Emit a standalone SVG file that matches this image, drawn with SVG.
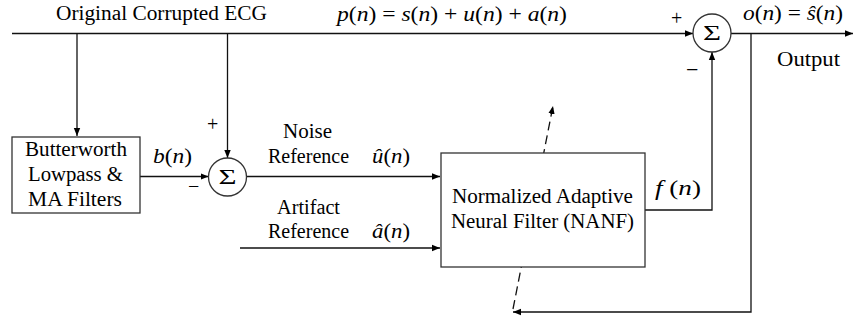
<svg xmlns="http://www.w3.org/2000/svg" width="854" height="320" viewBox="0 0 854 320">
<style>
.t{font-family:"Liberation Serif","Times New Roman",serif;font-size:20px;fill:#000}
.m{font-family:"Liberation Serif","Times New Roman",serif;font-size:20px;font-style:italic;fill:#000}
.u{font-style:normal}
.ln{stroke:#111;stroke-width:1.3;fill:none}
.bx{stroke:#333;stroke-width:1.3;fill:#fff}
</style>
<defs>
<marker id="ah" viewBox="0 0 10 10" refX="10" refY="5" markerWidth="8" markerHeight="8" markerUnits="userSpaceOnUse" orient="auto">
<path d="M0,1 L10,5 L0,9 z" fill="#000"/>
</marker>
</defs>
<g id="connectors">
<line class="ln" x1="12" y1="33.5" x2="693" y2="33.5" marker-end="url(#ah)"/>
<line class="ln" x1="77" y1="33.5" x2="77" y2="136" marker-end="url(#ah)"/>
<line class="ln" x1="227.5" y1="33.5" x2="227.5" y2="158" marker-end="url(#ah)"/>
<line class="ln" x1="140" y1="176.5" x2="208.5" y2="176.5" marker-end="url(#ah)"/>
<line class="ln" x1="247" y1="176.5" x2="440" y2="176.5" marker-end="url(#ah)"/>
<line class="ln" x1="240" y1="248" x2="440" y2="248" marker-end="url(#ah)"/>
<polyline class="ln" points="645,210 712,210 712,52" marker-end="url(#ah)"/>
<line class="ln" x1="731" y1="33.5" x2="853" y2="33.5" marker-end="url(#ah)"/>
<polyline class="ln" points="751,33.5 751,312 513,312" marker-end="url(#ah)"/>
<line class="ln" x1="513" y1="309" x2="553" y2="106" stroke-dasharray="9,5" marker-end="url(#ah)"/>
</g>
<g id="filter">
<rect class="bx" x="12" y="137" width="128" height="76"/>
<text class="t" text-anchor="middle" x="76" y="156" textLength="102" lengthAdjust="spacingAndGlyphs">Butterworth</text>
<text class="t" text-anchor="middle" x="75.5" y="181" textLength="95" lengthAdjust="spacingAndGlyphs">Lowpass &amp;</text>
<text class="t" text-anchor="middle" x="75" y="206" textLength="94" lengthAdjust="spacingAndGlyphs">MA Filters</text>
</g>
<g id="sum1">
<circle class="bx" cx="227.5" cy="177" r="19"/>
<text class="t" text-anchor="middle" x="227.5" y="184" style="font-size:22px" textLength="18" lengthAdjust="spacingAndGlyphs">Σ</text>
</g>
<g id="nanf">
<rect class="bx" x="441" y="153" width="204" height="114"/>
<text class="t" text-anchor="middle" x="542.5" y="203" textLength="181" lengthAdjust="spacingAndGlyphs">Normalized Adaptive</text>
<text class="t" text-anchor="middle" x="542.5" y="228" textLength="183" lengthAdjust="spacingAndGlyphs">Neural Filter (NANF)</text>
</g>
<g id="sum2">
<circle class="bx" cx="712" cy="33" r="19"/>
<text class="t" text-anchor="middle" x="712" y="40" style="font-size:22px" textLength="18" lengthAdjust="spacingAndGlyphs">Σ</text>
</g>
<g id="labels">
<text class="t" x="56" y="20" textLength="211" lengthAdjust="spacingAndGlyphs">Original Corrupted ECG</text>
<text class="m" x="337" y="21" textLength="230" lengthAdjust="spacingAndGlyphs">p<tspan class="u">(</tspan>n<tspan class="u">) = </tspan>s<tspan class="u">(</tspan>n<tspan class="u">) + </tspan>u<tspan class="u">(</tspan>n<tspan class="u">) + </tspan>a<tspan class="u">(</tspan>n<tspan class="u">)</tspan></text>
<text class="t" x="671" y="25" style="font-size:20px">+</text>
<text class="t" x="686" y="77" style="font-size:22px">−</text>
<text class="m" x="743" y="20" textLength="100" lengthAdjust="spacingAndGlyphs">o<tspan class="u">(</tspan>n<tspan class="u">) = </tspan>ŝ<tspan class="u">(</tspan>n<tspan class="u">)</tspan></text>
<text class="t" x="777" y="66" textLength="63" lengthAdjust="spacingAndGlyphs">Output</text>
<text class="m" x="153" y="163" textLength="39" lengthAdjust="spacingAndGlyphs">b<tspan class="u">(</tspan>n<tspan class="u">)</tspan></text>
<text class="t" x="188" y="193" style="font-size:20px">−</text>
<text class="t" x="207" y="131" style="font-size:20px">+</text>
<text class="t" text-anchor="middle" x="307.5" y="138" textLength="49" lengthAdjust="spacingAndGlyphs">Noise</text>
<text class="t" text-anchor="middle" x="308.5" y="163" textLength="81" lengthAdjust="spacingAndGlyphs">Reference</text>
<text class="m" x="372" y="163" textLength="38" lengthAdjust="spacingAndGlyphs">û<tspan class="u">(</tspan>n<tspan class="u">)</tspan></text>
<text class="t" text-anchor="middle" x="308.5" y="214" textLength="63" lengthAdjust="spacingAndGlyphs">Artifact</text>
<text class="t" text-anchor="middle" x="308.5" y="238" textLength="81" lengthAdjust="spacingAndGlyphs">Reference</text>
<text class="m" x="372" y="238" textLength="38" lengthAdjust="spacingAndGlyphs">â<tspan class="u">(</tspan>n<tspan class="u">)</tspan></text>
<text class="m" x="655" y="195" textLength="46" lengthAdjust="spacingAndGlyphs">f<tspan class="u"> (</tspan>n<tspan class="u">)</tspan></text>
</g>
</svg>
